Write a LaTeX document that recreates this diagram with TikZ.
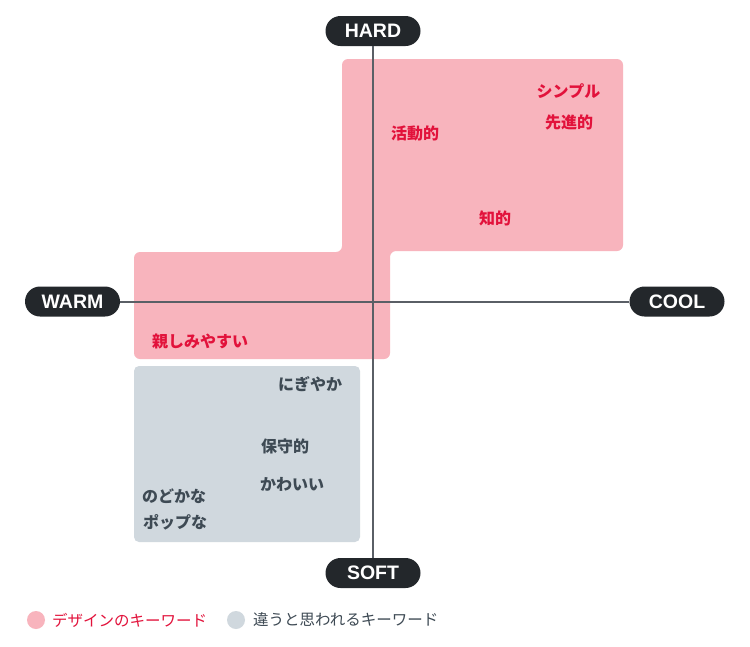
\documentclass[tikz,border=0pt]{standalone}
\usepackage{fontspec}
\newfontfamily\jp{Noto Sans CJK JP}
\newfontfamily\lat{Liberation Sans}
\definecolor{pinkfill}{HTML}{F8B4BD}
\definecolor{redtext}{HTML}{E2123B}
\definecolor{grayfill}{HTML}{D0D8DE}
\definecolor{graytext}{HTML}{3E4A54}
\definecolor{axiscol}{HTML}{5A5F66}
\definecolor{pillcol}{HTML}{23272B}
\tikzset{
  pill/.style={fill=pillcol, text=white, rounded corners=15pt, minimum width=95pt, minimum height=30pt, inner sep=0pt, font=\lat\bfseries\fontsize{19.5}{21}\selectfont},
  redlab/.style={text=redtext, inner sep=0pt, font=\jp\bfseries\fontsize{16}{18}\selectfont},
  graylab/.style={text=graytext, inner sep=0pt, font=\jp\bfseries\fontsize{16}{18}\selectfont},
  legtext/.style={inner sep=0pt, anchor=west, font=\jp\fontsize{15.5}{17}\selectfont},
  axis/.style={draw=axiscol, line width=2pt}
}
\begin{document}
\begin{tikzpicture}[x=1pt,y=-1pt]
\useasboundingbox[fill=white] (0,0) rectangle (750,646);
% regions
\fill[pinkfill, rounded corners=6pt] (342,59) -- (623,59) -- (623,251) -- (390,251) -- (390,359) -- (134,359) -- (134,252) -- (342,252) -- cycle;
\fill[grayfill, rounded corners=5pt] (134,366) rectangle (360,542);
% pills
\node[pill] (hard) at (373,31) {HARD};
\node[pill] (soft) at (373,573) {SOFT};
\node[pill] (warm) at (72.5,301.5) {WARM};
\node[pill] (cool) at (677,301.5) {COOL};
% axes
\draw[axis] (hard.south) -- (soft.north);
\draw[axis] (warm.east) -- (cool.west);
% red labels
\node[redlab] (l1) at (568.5,91) {シンプル};
\node[redlab] (l2) at (569,122) {先進的};
\node[redlab] (l3) at (415,133) {活動的};
\node[redlab] (l4) at (495,218) {知的};
\node[redlab] (l5) at (200,341) {親しみやすい};
% gray labels
\node[graylab] (g1) at (310,384) {にぎやか};
\node[graylab] (g2) at (285,446) {保守的};
\node[graylab] (g3) at (292,484) {かわいい};
\node[graylab] (g4) at (174,496) {のどかな};
\node[graylab] (g5) at (175,522) {ポップな};
% legend
\fill[pinkfill] (36,620) circle (9pt);
\node[legtext, text=redtext] (leg1) at (52,620) {デザインのキーワード};
\fill[grayfill] (236,620) circle (9pt);
\node[legtext, text=graytext] (leg2) at (253,620) {違うと思われるキーワード};
\end{tikzpicture}
\end{document}
